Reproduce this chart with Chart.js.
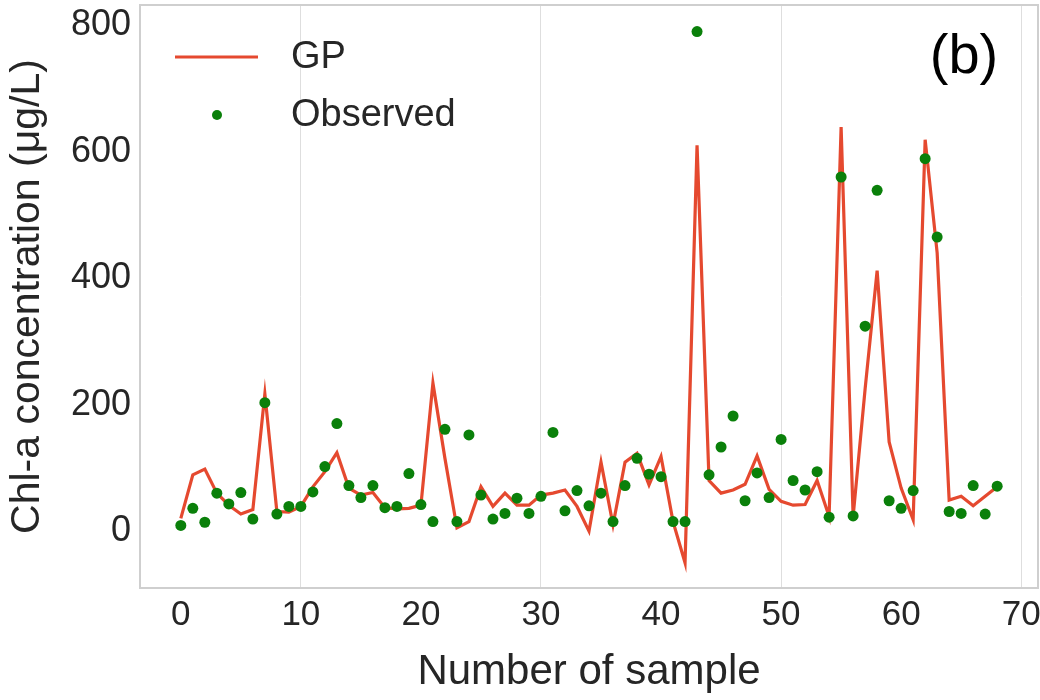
<!DOCTYPE html>
<html>
<head>
<meta charset="utf-8">
<script src="https://cdn.jsdelivr.net/npm/chart.js@4.4.1/dist/chart.umd.min.js"></script>
<style>
  html, body { margin: 0; padding: 0; background: #ffffff; }
  #wrap { width: 1040px; height: 700px; position: relative; }
</style>
</head>
<body>
<div id="wrap"><canvas id="c" width="1040" height="700"></canvas></div>
<script>
// ---- data ----
const sampleIndex = [0,1,2,3,4,5,6,7,8,9,10,11,12,13,14,15,16,17,18,19,20,21,22,23,24,25,26,27,28,29,30,31,32,33,34,35,36,37,38,39,40,41,42,43,44,45,46,47,48,49,50,51,52,53,54,55,56,57,58,59,60,61,62,63,64,65,66,67,68];
const gpValues = [20,89,98,60,41,27,34,217,31,30,39,70,94,124,68,57,61,37,35,36,41,234,115,5,15,70,39,60,41,41,57,60,65,39,0,109,10,109,123,73,118,15,-50,610,80,60,65,74,119,66,47,41,42,80,23,639,23,225,412,141,68,18,619,440,49,55,40,55,70];
const observedValues = [9,36,14,60,43,61,19,203,27,39,39,62,102,170,72,53,72,37,39,91,42,15,161,15,152,57,19,28,52,28,55,156,32,64,40,60,15,72,115,90,86,15,15,790,89,133,182,48,92,53,145,80,65,94,22,560,24,324,539,48,36,64,589,465,31,28,72,27,71];
const xTickValues = [0,10,20,30,40,50,60,70];
const yTickValues = [0,200,400,600,800];
const seriesNames = ['GP', 'Observed'];
const panelLabel = '(b)';
const xTitle = 'Number of sample';
const yTitle = 'Chl-a concentration (\u03bcg/L)';

const FONT = "'Liberation Sans', Arial, sans-serif";
const TEXT = '#262626';
const RED = '#e5492f';
const GREEN = '#0a800a';

const gpPoints = sampleIndex.map((x, i) => ({x: x, y: gpValues[i]}));
const obsPoints = sampleIndex.map((x, i) => ({x: x, y: observedValues[i]}));

const frame = {
  id: 'frame',
  beforeDatasetsDraw(chart) {
    const {ctx, chartArea: a} = chart;
    ctx.save();
    ctx.strokeStyle = '#cfcfcf';
    ctx.lineWidth = 2;
    ctx.strokeRect(a.left, a.top, a.right - a.left, a.bottom - a.top);
    ctx.restore();
  },
  afterDraw(chart) {
    const {ctx} = chart;
    ctx.save();
    // legend
    ctx.strokeStyle = RED;
    ctx.lineWidth = 3;
    ctx.beginPath();
    ctx.moveTo(175, 57);
    ctx.lineTo(258, 57);
    ctx.stroke();
    ctx.fillStyle = GREEN;
    ctx.beginPath();
    ctx.arc(217, 115, 5, 0, Math.PI * 2);
    ctx.fill();
    ctx.fillStyle = TEXT;
    ctx.font = '38px ' + FONT;
    ctx.textBaseline = 'middle';
    ctx.textAlign = 'left';
    ctx.fillText(seriesNames[0], 291, 58);
    ctx.fillText(seriesNames[1], 291, 116);
    // panel label
    ctx.fillStyle = '#000000';
    ctx.font = '56px ' + FONT;
    ctx.textAlign = 'center';
    ctx.fillText(panelLabel, 964, 58);
    ctx.restore();
  }
};

new Chart(document.getElementById('c'), {
  type: 'line',
  data: {
    datasets: [
      {
        label: seriesNames[0],
        data: gpPoints,
        borderColor: RED,
        borderWidth: 3.2,
        pointRadius: 0,
        tension: 0,
        fill: false,
        order: 1
      },
      {
        label: seriesNames[1],
        data: obsPoints,
        showLine: false,
        pointRadius: 5.5,
        pointBackgroundColor: GREEN,
        pointBorderColor: GREEN,
        pointBorderWidth: 0,
        order: 0
      }
    ]
  },
  options: {
    responsive: false,
    animation: false,
    devicePixelRatio: 1,
    layout: { padding: {left: 0, right: 2, top: 5, bottom: 0}, autoPadding: false },
    plugins: { legend: { display: false }, tooltip: { enabled: false } },
    scales: {
      x: {
        type: 'linear',
        min: -3.4,
        max: 71.4,
        afterBuildTicks(scale) { scale.ticks = xTickValues.map(v => ({value: v})); },
        afterFit(scale) {
          scale.height = 112;
          scale.paddingLeft = 0; scale.paddingRight = 0;
          scale.paddingTop = 0; scale.paddingBottom = 0;
        },
        border: { display: false },
        grid: {
          drawTicks: false,
          color: (c) => (c.tick && c.tick.value % 20 === 10) ? '#dedede' : 'rgba(0,0,0,0)',
          lineWidth: 1
        },
        ticks: {
          padding: 6,
          maxRotation: 0,
          autoSkip: false,
          color: TEXT,
          font: { family: FONT, size: 35 }
        },
        title: {
          display: true,
          text: xTitle,
          color: TEXT,
          font: { family: FONT, size: 42 },
          padding: { top: 4, bottom: 2 }
        }
      },
      y: {
        type: 'linear',
        min: -90,
        max: 832,
        afterBuildTicks(scale) { scale.ticks = yTickValues.map(v => ({value: v})); },
        afterFit(scale) {
          scale.width = 140;
          scale.paddingLeft = 0; scale.paddingRight = 0;
          scale.paddingTop = 0; scale.paddingBottom = 0;
        },
        border: { display: false },
        grid: { display: false, drawTicks: false },
        ticks: {
          padding: 9,
          color: TEXT,
          font: { family: FONT, size: 36 }
        },
        title: {
          display: true,
          text: yTitle,
          color: TEXT,
          font: { family: FONT, size: 41 },
          padding: { top: 3, bottom: 4 }
        }
      }
    }
  },
  plugins: [frame]
});
</script>
</body>
</html>
